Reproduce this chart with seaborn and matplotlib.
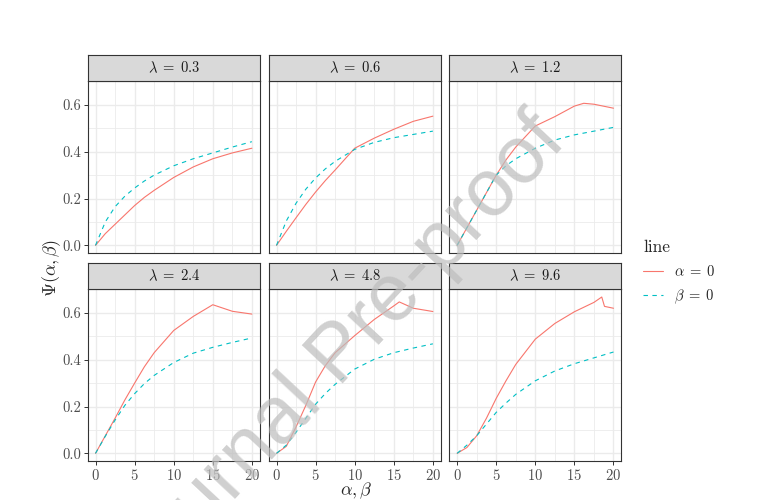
import numpy as np
import pandas as pd
import matplotlib
matplotlib.use('Agg')
import matplotlib.pyplot as plt
from matplotlib.ticker import FormatStrFormatter
import seaborn as sns

# Style: ggplot theme_bw look with LaTeX-like text
sns.set_style("white")
plt.rcParams['font.family'] = ['cmr10', 'DejaVu Serif']
plt.rcParams['mathtext.fontset'] = 'cm'
plt.rcParams['axes.formatter.use_mathtext'] = True
plt.rcParams['axes.unicode_minus'] = False

# =============================================================================
# Data
# =============================================================================

lambda_labels = ['0.3', '0.6', '1.2', '2.4', '4.8', '9.6']
x_grid = [0, 1.25, 2.5, 3.75, 5, 6.25, 7.5, 10, 12.5, 15, 17.5, 20]

# alpha = 0 (solid red)
alpha_x_03 = x_grid
alpha_y_03 = [0, 0.05, 0.09, 0.13, 0.17, 0.205, 0.235, 0.29, 0.335, 0.37, 0.395, 0.415]
alpha_x_06 = x_grid
alpha_y_06 = [0, 0.06, 0.118, 0.175, 0.228, 0.277, 0.322, 0.415, 0.458, 0.496, 0.53, 0.552]
alpha_x_12 = [0, 1.25, 2.5, 3.75, 5, 6.25, 7.5, 10, 12.5, 15, 16.2, 17.5, 20]
alpha_y_12 = [0, 0.075, 0.15, 0.225, 0.30, 0.365, 0.42, 0.51, 0.55, 0.595, 0.607, 0.603, 0.586]
alpha_x_24 = x_grid
alpha_y_24 = [0, 0.075, 0.15, 0.228, 0.30, 0.37, 0.43, 0.525, 0.585, 0.635, 0.607, 0.595]
alpha_x_48 = [0, 1.25, 2.5, 3.75, 5, 6.25, 7.5, 10, 12.5, 15, 15.7, 17.5, 20]
alpha_y_48 = [0, 0.03, 0.113, 0.205, 0.305, 0.375, 0.43, 0.503, 0.572, 0.63, 0.647, 0.62, 0.606]
alpha_x_96 = [0, 1.25, 2.5, 3.75, 5, 6.25, 7.5, 10, 12.5, 15, 17.5, 18.5, 18.85, 20]
alpha_y_96 = [0, 0.025, 0.075, 0.15, 0.235, 0.31, 0.38, 0.488, 0.555, 0.605, 0.645, 0.668, 0.628, 0.62]

# beta = 0 (dashed cyan)
beta_y_03 = [0, 0.1, 0.165, 0.21, 0.245, 0.275, 0.3, 0.34, 0.37, 0.395, 0.42, 0.443]
beta_y_06 = [0, 0.104, 0.18, 0.24, 0.288, 0.327, 0.359, 0.41, 0.44, 0.46, 0.474, 0.488]
beta_y_12 = [0, 0.075, 0.15, 0.225, 0.30, 0.34, 0.37, 0.415, 0.45, 0.472, 0.488, 0.504]
beta_y_24 = [0, 0.073, 0.142, 0.205, 0.255, 0.298, 0.333, 0.388, 0.428, 0.453, 0.474, 0.493]
beta_y_48 = [0, 0.035, 0.09, 0.15, 0.21, 0.256, 0.295, 0.36, 0.402, 0.43, 0.45, 0.468]
beta_y_96 = [0, 0.035, 0.075, 0.125, 0.175, 0.215, 0.252, 0.31, 0.352, 0.383, 0.408, 0.433]

alpha_x = [alpha_x_03, alpha_x_06, alpha_x_12, alpha_x_24, alpha_x_48, alpha_x_96]
alpha_y = [alpha_y_03, alpha_y_06, alpha_y_12, alpha_y_24, alpha_y_48, alpha_y_96]
beta_y = [beta_y_03, beta_y_06, beta_y_12, beta_y_24, beta_y_48, beta_y_96]

lab_a = r'$\alpha\;=\;0$'
lab_b = r'$\beta\;=\;0$'

frames = []
for lam, ax_, ay_, by_ in zip(lambda_labels, alpha_x, alpha_y, beta_y):
    frames.append(pd.DataFrame({'lam': lam, 'x': ax_, 'psi': ay_, 'line': lab_a}))
    frames.append(pd.DataFrame({'lam': lam, 'x': x_grid, 'psi': by_, 'line': lab_b}))
df = pd.DataFrame(pd.concat(frames, ignore_index=True))

palette = {lab_a: '#F8766D', lab_b: '#00BFC4'}
dashes = {lab_a: '', lab_b: (4, 4)}

# =============================================================================
# Layout (pixels of a 768x500 canvas)
# =============================================================================

W, H = 768, 500
col_left = [87.7, 268.7, 449.3]
panel_w = 172.0
strip_top = [54.7, 262.7]
strip_h = 26.0
panel_h = 172.5

fig = plt.figure(figsize=(7.68, 5), dpi=100)

handles, labels = None, None
for i, lam in enumerate(lambda_labels):
    r, c = divmod(i, 3)
    left = col_left[c]
    top = strip_top[r] + strip_h
    ax = fig.add_axes([left / W, 1 - (top + panel_h) / H, panel_w / W, panel_h / H])
    sub = df[df['lam'] == lam]
    sns.lineplot(data=sub, x='x', y='psi', hue='line', style='line',
                 hue_order=[lab_a, lab_b], style_order=[lab_a, lab_b],
                 palette=palette, dashes=dashes, linewidth=0.8,
                 estimator=None, sort=False, ax=ax, legend=(i == 0))
    if i == 0:
        handles, labels = ax.get_legend_handles_labels()
        ax.get_legend().remove()

    ax.set_xlim(-1, 21)
    ax.set_ylim(-0.0335, 0.7035)
    ax.set_xticks([0, 5, 10, 15, 20])
    ax.set_yticks([0, 0.2, 0.4, 0.6])
    ax.set_xticks([2.5, 7.5, 12.5, 17.5], minor=True)
    ax.set_yticks([0.1, 0.3, 0.5], minor=True)
    ax.yaxis.set_major_formatter(FormatStrFormatter('%.1f'))
    ax.grid(which='major', color='#EBEBEB', linewidth=1.0)
    ax.grid(which='minor', color='#EBEBEB', linewidth=0.6)
    ax.set_axisbelow(True)
    ax.set_xlabel('')
    ax.set_ylabel('')
    for s in ax.spines.values():
        s.set_color('#333333')
        s.set_linewidth(0.8)
    ax.tick_params(which='major', length=2.7, width=0.7, color='#333333',
                   labelsize=10.5, labelcolor='#4D4D4D', pad=2,
                   left=True, bottom=True)
    ax.tick_params(which='minor', length=0)
    if c != 0:
        ax.tick_params(axis='y', left=False, labelleft=False)
    if r == 0:
        ax.tick_params(axis='x', bottom=False, labelbottom=False)

    # facet strip
    sax = fig.add_axes([left / W, 1 - (strip_top[r] + strip_h) / H, panel_w / W, strip_h / H])
    sax.set_facecolor('#D9D9D9')
    sax.set_xticks([])
    sax.set_yticks([])
    for s in sax.spines.values():
        s.set_color('#333333')
        s.set_linewidth(0.8)
    sax.text(0.5, 0.5, rf'$\lambda\;=\;{lam}$', ha='center', va='center',
             fontsize=10.5, color='#1A1A1A', transform=sax.transAxes)

# axis titles
fig.text(52 / W, 1 - 268 / H, r'$\Psi(\alpha,\beta)$', rotation=90,
         ha='center', va='center', fontsize=13)
fig.text(356 / W, 1 - 491 / H, r'$\alpha, \beta$', ha='center', va='center', fontsize=13)

# legend
fig.legend(handles, labels, title='line', loc='upper left',
           bbox_to_anchor=(643 / W, 1 - 240 / H), frameon=False,
           fontsize=10.5, title_fontsize=12.5, handlelength=1.35,
           handletextpad=0.8, labelspacing=0.6, alignment='left',
           borderpad=0, borderaxespad=0)

# watermark
fig.text(340 / W, 1 - 356 / H, 'Journal Pre-proof', rotation=47,
         rotation_mode='anchor', ha='center', va='center', fontsize=58,
         family='Liberation Sans', color='#BEBEBE', alpha=0.72, zorder=10)

fig.savefig('out.png', dpi=100)
plt.close(fig)
